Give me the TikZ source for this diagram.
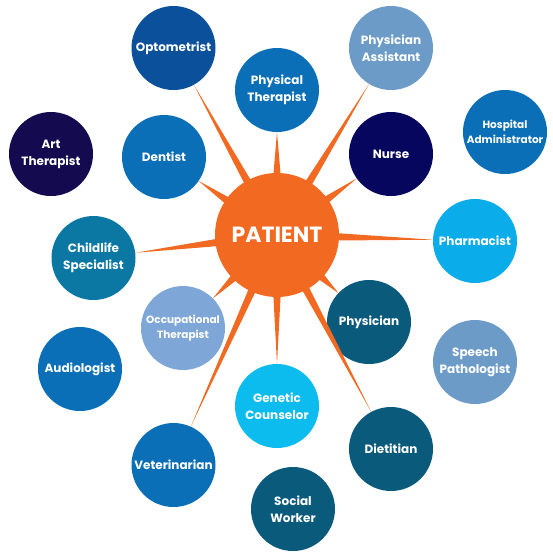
\documentclass[tikz,border=0pt]{standalone}
\usepackage{fontspec}
\setmainfont{Poppins}
\usetikzlibrary{calc}
\definecolor{patorange}{HTML}{F26A22}
\definecolor{optoblue}{HTML}{0B509B}
\definecolor{midblue}{HTML}{0B6FB7}
\definecolor{greyblue}{HTML}{6B9BC6}
\definecolor{navy}{HTML}{06065F}
\definecolor{inkpurple}{HTML}{130A50}
\definecolor{tealblue}{HTML}{0B78A4}
\definecolor{skyblue}{HTML}{0AACE9}
\definecolor{paleblue}{HTML}{7EA7D8}
\definecolor{petrol}{HTML}{0A5A7C}
\definecolor{cyanblue}{HTML}{0CBCEF}

\begin{document}
\begin{tikzpicture}[x=1pt, y=-1pt,
  role/.style={circle, minimum size=84pt, inner sep=0pt, text=white, align=center,
    font=\bfseries\fontsize{12}{17}\selectfont},
  smalltext/.style={font=\bfseries\fontsize{10.5}{15}\selectfont},
  spike/.style={fill=patorange}]
  \useasboundingbox (0,0) rectangle (553,558);
  % the roles around the patient
  \node[role, fill=optoblue] (opto) at (173.5,48) {Optometrist};
  \node[role, fill=greyblue] (physasst) at (391,48) {Physician\\Assistant};
  \node[role, fill=midblue] (phyther) at (277,90) {Physical\\Therapist};
  \node[role, fill=inkpurple] (art) at (51,154) {Art\\Therapist};
  \node[role, fill=midblue] (dentist) at (164,157) {Dentist};
  \node[role, fill=navy] (nurse) at (391,154) {Nurse};
  \node[role, smalltext, fill=midblue] (hosp) at (505,132) {Hospital\\Administrator};
  \node[role, fill=tealblue] (child) at (93.5,258) {Childlife\\Specialist};
  \node[role, fill=skyblue] (pharm) at (475,241) {Pharmacist};
  \node[role, smalltext, fill=paleblue] (occ) at (183,328) {Occupational\\Therapist};
  \node[role, fill=petrol] (physician) at (369,322) {Physician};
  \node[role, fill=midblue] (audio) at (80,369) {Audiologist};
  \node[role, fill=greyblue] (speech) at (475,362) {Speech\\Pathologist};
  \node[role, fill=cyanblue] (genetic) at (277,406) {Genetic\\Counselor};
  \node[role, fill=petrol] (dietitian) at (391,449) {Dietitian};
  \node[role, fill=midblue] (vet) at (173.5,465) {Veterinarian};
  \node[role, fill=petrol] (social) at (293,509) {Social\\Worker};
  % centre
  \node[circle, minimum size=124pt, inner sep=0pt, fill=patorange, text=white,
    font=\bfseries\fontsize{22}{26}\selectfont] (patient) at (277,235) {PATIENT};
  \foreach \t in {opto,phyther,physasst,nurse,pharm,physician,dietitian,genetic,vet,occ,child,dentist}
    \fill[spike] ($(patient)!60pt!3.5:(\t)$) -- ($(\t)!42pt!(patient)$) -- ($(patient)!60pt!-3.5:(\t)$) -- cycle;
\end{tikzpicture}
\end{document}
